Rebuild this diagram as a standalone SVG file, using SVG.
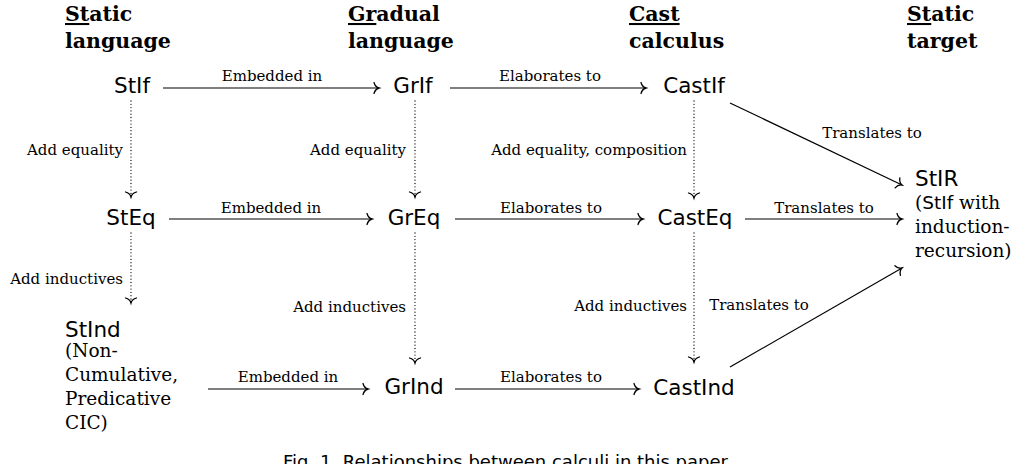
<svg xmlns="http://www.w3.org/2000/svg" width="1031" height="464" viewBox="0 0 1031 464">
<style>
.hd{font-family:"DejaVu Serif","Liberation Serif",serif;font-weight:bold;font-size:20.5px;fill:#000}
.nd{font-family:"DejaVu Sans","Liberation Sans",sans-serif;font-size:21.5px;fill:#000}
.lb{font-family:"DejaVu Serif","Liberation Serif",serif;font-size:15px;fill:#000}
.tx{font-family:"DejaVu Serif","Liberation Serif",serif;font-size:18.5px;fill:#000}
.cap{font-family:"DejaVu Sans","Liberation Sans",sans-serif;font-size:18px;fill:#000}
.ar{stroke:#000;stroke-width:1.2;fill:none;marker-end:url(#to)}
.dt{stroke:#000;stroke-width:1.3;fill:none;stroke-dasharray:0 3.3;stroke-linecap:round;marker-end:url(#to)}
</style>
<defs>
<marker id="to" markerUnits="userSpaceOnUse" orient="auto" viewBox="-10 -10 20 20" refX="0" refY="0" markerWidth="20" markerHeight="20">
<path d="M-5,-5.5 C-4,-2 -1.9,-0.5 0,0 C-1.9,0.5 -4,2 -5,5.5" stroke="#000" stroke-width="1.3" fill="none" stroke-linecap="round" stroke-dasharray="none"/>
</marker>
</defs>
<rect width="1031" height="464" fill="#fff"/>
<g id="headers">
<text class="hd" x="65" y="21"><tspan text-decoration="underline">St</tspan>atic</text>
<text class="hd" x="65" y="48">language</text>
<text class="hd" x="348" y="21"><tspan text-decoration="underline">Gr</tspan>adual</text>
<text class="hd" x="348" y="48">language</text>
<text class="hd" x="629" y="21"><tspan text-decoration="underline">Cast</tspan></text>
<text class="hd" x="629" y="48">calculus</text>
<text class="hd" x="907" y="21"><tspan text-decoration="underline">St</tspan>atic</text>
<text class="hd" x="907" y="48">target</text>
</g>
<g id="connectors">
<line class="ar" x1="163" y1="88" x2="379" y2="88"/>
<line class="ar" x1="450" y1="88" x2="646" y2="88"/>
<line class="ar" x1="169" y1="219" x2="372" y2="219"/>
<line class="ar" x1="455" y1="219" x2="643" y2="219"/>
<line class="ar" x1="745" y1="219" x2="902" y2="219"/>
<line class="ar" x1="208" y1="389" x2="368" y2="389"/>
<line class="ar" x1="455" y1="389" x2="639" y2="389"/>
<line class="ar" x1="730" y1="103" x2="902" y2="185"/>
<line class="ar" x1="730" y1="367" x2="902" y2="268"/>
<line class="dt" x1="131" y1="101" x2="131" y2="197"/>
<line class="dt" x1="131" y1="233" x2="131" y2="303"/>
<line class="dt" x1="415" y1="101" x2="415" y2="197"/>
<line class="dt" x1="415" y1="233" x2="415" y2="363"/>
<line class="dt" x1="694" y1="101" x2="694" y2="198"/>
<line class="dt" x1="694" y1="233" x2="694" y2="362"/>
<text class="lb" x="272" y="81" text-anchor="middle">Embedded in</text>
<text class="lb" x="550" y="81" text-anchor="middle">Elaborates to</text>
<text class="lb" x="271" y="213" text-anchor="middle">Embedded in</text>
<text class="lb" x="551" y="213" text-anchor="middle">Elaborates to</text>
<text class="lb" x="824" y="213" text-anchor="middle">Translates to</text>
<text class="lb" x="288" y="382" text-anchor="middle">Embedded in</text>
<text class="lb" x="551" y="382" text-anchor="middle">Elaborates to</text>
<text class="lb" x="872" y="138" text-anchor="middle">Translates to</text>
<text class="lb" x="759" y="310" text-anchor="middle">Translates to</text>
<text class="lb" x="123" y="155" text-anchor="end">Add equality</text>
<text class="lb" x="406" y="155" text-anchor="end">Add equality</text>
<text class="lb" x="687" y="155" text-anchor="end">Add equality, composition</text>
<text class="lb" x="123" y="284" text-anchor="end">Add inductives</text>
<text class="lb" x="406" y="312" text-anchor="end">Add inductives</text>
<text class="lb" x="687" y="311" text-anchor="end">Add inductives</text>
</g>
<g id="StIf"><text class="nd" x="132" y="93" text-anchor="middle">StIf</text></g>
<g id="GrIf"><text class="nd" x="413" y="93" text-anchor="middle">GrIf</text></g>
<g id="CastIf"><text class="nd" x="694" y="93" text-anchor="middle">CastIf</text></g>
<g id="StEq"><text class="nd" x="131" y="225" text-anchor="middle">StEq</text></g>
<g id="GrEq"><text class="nd" x="414" y="225" text-anchor="middle">GrEq</text></g>
<g id="CastEq"><text class="nd" x="695" y="225" text-anchor="middle">CastEq</text></g>
<g id="StInd">
<text class="nd" x="65" y="337">StInd</text>
<text class="tx" x="65" y="357">(Non-</text>
<text class="tx" x="65" y="381">Cumulative,</text>
<text class="tx" x="65" y="405">Predicative</text>
<text class="tx" x="65" y="429">CIC)</text>
</g>
<g id="GrInd"><text class="nd" x="414" y="394" text-anchor="middle">GrInd</text></g>
<g id="CastInd"><text class="nd" x="694" y="395" text-anchor="middle">CastInd</text></g>
<g id="StIR">
<text class="nd" x="915" y="186">StIR</text>
<text class="tx" x="915" y="209">(<tspan style="font-family:'DejaVu Sans','Liberation Sans',sans-serif">StIf</tspan> with</text>
<text class="tx" x="915" y="233">induction-</text>
<text class="tx" x="915" y="257">recursion)</text>
</g>
<text class="cap" x="283" y="468">Fig. 1. Relationships between calculi in this paper.</text>
</svg>
